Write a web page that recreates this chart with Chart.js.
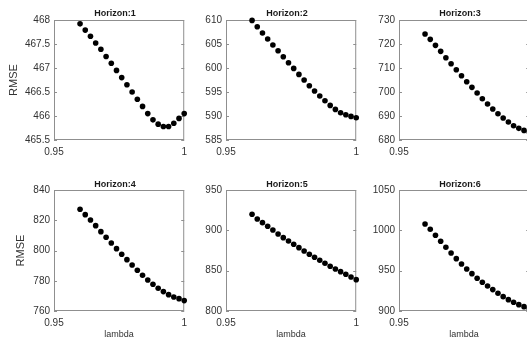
<!DOCTYPE html>
<html>
<head>
<meta charset="utf-8">
<script src="https://cdn.jsdelivr.net/npm/chart.js@4.4.1/dist/chart.umd.min.js"></script>
<style>
    html, body { margin: 0; padding: 0; background: #fff; overflow: hidden; }
    #wrap { position: relative; width: 527px; height: 343px; overflow: hidden; }
    #wrap canvas { position: absolute; }
</style>
</head>
<body>
<div id="wrap"></div>
<script>
// lambda-værdier (x) og RMSE for hver horisont
const lambdaValues = [0.960, 0.962, 0.964, 0.966, 0.968, 0.970, 0.972, 0.974, 0.976, 0.978,
    0.980, 0.982, 0.984, 0.986, 0.988, 0.990, 0.992, 0.994, 0.996, 0.998, 1.000];

const horizonTitles = ['Horizon:1', 'Horizon:2', 'Horizon:3', 'Horizon:4', 'Horizon:5', 'Horizon:6'];

const rmseH1 = [467.92, 467.79, 467.66, 467.52, 467.39, 467.24, 467.10, 466.95, 466.80, 466.65,
    466.50, 466.35, 466.20, 466.05, 465.92, 465.83, 465.78, 465.78, 465.85, 465.95, 466.05];
const rmseH2 = [609.92, 608.60, 607.29, 606.04, 604.79, 603.60, 602.35, 601.10, 599.92, 598.67,
    597.49, 596.31, 595.20, 594.16, 593.19, 592.21, 591.38, 590.69, 590.27, 589.92, 589.65];
const rmseH3 = [724.15, 721.93, 719.43, 716.93, 714.29, 711.79, 709.29, 706.79, 704.29, 701.93,
    699.57, 697.21, 694.99, 692.90, 690.96, 689.15, 687.49, 685.96, 684.85, 684.01, 683.30];
const rmseH4 = [827.24, 823.71, 820.19, 816.44, 812.47, 808.73, 804.98, 801.23, 797.49, 793.96,
    790.43, 786.91, 783.60, 780.52, 777.65, 775.01, 772.81, 770.82, 769.28, 768.18, 766.86];
const rmseH5 = [919.88, 914.09, 909.55, 905.00, 900.45, 895.49, 890.95, 886.82, 882.69, 878.56,
    874.42, 870.29, 866.57, 862.85, 859.14, 855.42, 852.11, 848.81, 845.50, 842.19, 838.89];
const rmseH6 = [1007.89, 1001.28, 993.85, 986.41, 978.97, 971.94, 964.92, 958.31, 952.11, 946.33,
    940.54, 935.58, 931.03, 926.50, 921.95, 917.82, 914.10, 910.79, 907.90, 905.42, 903.20];

// Akser
const xTickValues = [0.95, 1];
const yMins = [465.5, 585, 680, 760, 800, 900];
const yMaxs = [468, 610, 730, 840, 950, 1050];
const ySteps = [0.5, 5, 10, 20, 50, 50];

const allSeries = [rmseH1, rmseH2, rmseH3, rmseH4, rmseH5, rmseH6];

const fontFamily = '"Liberation Sans", Arial, Helvetica, sans-serif';
const textColor = '#333';

// Placering af de seks delplot
const plotLefts = [54, 226, 399];
const plotWidth = 131;
const canvasTops = [0, 170];
const canvasHeights = [165, 173];
const xAxisHeights = [25, 32];
const titlePaddings = [{ top: 8, bottom: 1.2 }, { top: 9.5, bottom: -0.3 }];

// Boks rundt om plottet med små indadvendte streger (MATLAB-stil)
const boxPlugin = {
    id: 'matlabBox',
    afterLayout(chart) {
        // titlen sidder lidt til venstre for plottets midte
        const tb = chart.titleBlock;
        if (tb) {
            tb.left -= 4;
            tb.right -= 4;
        }
    },
    beforeDatasetsDraw(chart) {
        const { ctx, chartArea: a, scales: { y } } = chart;
        ctx.save();
        ctx.strokeStyle = '#8f8f8f';
        ctx.lineWidth = 1;
        ctx.strokeRect(a.left + 0.5, a.top + 0.5, a.right - a.left - 1, a.bottom - a.top - 1);
        ctx.beginPath();
        y.ticks.forEach(t => {
            const py = Math.round(y.getPixelForValue(t.value)) + 0.5;
            ctx.moveTo(a.left, py);
            ctx.lineTo(a.left + 3, py);
            ctx.moveTo(a.right, py);
            ctx.lineTo(a.right - 3, py);
        });
        ctx.stroke();
        ctx.restore();
    }
};

const wrap = document.getElementById('wrap');

allSeries.forEach((series, i) => {
    const row = Math.floor(i / 3);
    const col = i % 3;
    const yAxisWidth = col === 0 ? 54 : 40;

    const canvas = document.createElement('canvas');
    canvas.width = yAxisWidth + plotWidth + 8;
    canvas.height = canvasHeights[row];
    canvas.style.left = (plotLefts[col] - yAxisWidth) + 'px';
    canvas.style.top = canvasTops[row] + 'px';
    wrap.appendChild(canvas);

    new Chart(canvas, {
        type: 'scatter',
        data: {
            datasets: [{
                data: lambdaValues.map((x, j) => ({ x: x, y: series[j] })),
                backgroundColor: '#000',
                borderColor: '#000',
                borderWidth: 0,
                pointRadius: 2.8,
                pointHoverRadius: 2.8,
                clip: false
            }]
        },
        options: {
            responsive: false,
            animation: false,
            events: [],
            layout: { padding: { right: 8 } },
            plugins: {
                legend: { display: false },
                tooltip: { enabled: false },
                title: {
                    display: true,
                    fullSize: false,
                    text: horizonTitles[i],
                    color: '#1a1a1a',
                    font: { family: fontFamily, size: 9, weight: 'bold' },
                    padding: titlePaddings[row]
                }
            },
            scales: {
                x: {
                    type: 'linear',
                    min: 0.95,
                    max: 1,
                    afterBuildTicks: scale => {
                        scale.ticks = xTickValues.map(v => ({ value: v }));
                    },
                    afterFit: scale => {
                        scale.height = xAxisHeights[row];
                    },
                    grid: { display: false, drawTicks: false },
                    border: { display: false },
                    ticks: {
                        padding: 6,
                        color: textColor,
                        maxRotation: 0,
                        autoSkip: false,
                        font: { family: fontFamily, size: 10 },
                        callback: v => String(v)
                    },
                    title: {
                        display: row === 1,
                        text: 'lambda',
                        color: textColor,
                        font: { family: fontFamily, size: 9 },
                        padding: { top: 0, bottom: 2.6 }
                    }
                },
                y: {
                    min: yMins[i],
                    max: yMaxs[i],
                    afterFit: scale => {
                        scale.width = yAxisWidth;
                    },
                    grid: { display: false, drawTicks: false },
                    border: { display: false },
                    ticks: {
                        stepSize: ySteps[i],
                        padding: 4,
                        color: textColor,
                        font: { family: fontFamily, size: 10 },
                        callback: v => String(+v.toFixed(2))
                    },
                    title: {
                        display: col === 0,
                        text: 'RMSE',
                        color: textColor,
                        font: { family: fontFamily, size: 11 },
                        padding: { top: row === 0 ? 7.4 : 14.4, bottom: 0 }
                    }
                }
            }
        },
        plugins: [boxPlugin]
    });
});
</script>
</body>
</html>
